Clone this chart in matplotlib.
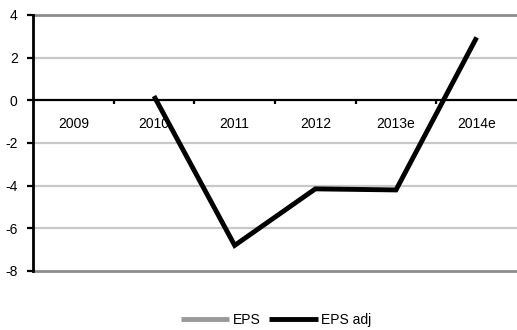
import matplotlib
matplotlib.use("Agg")
import matplotlib.pyplot as plt
import numpy as np

categories = ["2009", "2010", "2011", "2012", "2013e", "2014e"]
eps = [np.nan, np.nan, np.nan, np.nan, np.nan, np.nan]
eps_adj = [np.nan, 0.2, -6.8, -4.15, -4.2, 2.95]
y_ticks = [-8, -6, -4, -2, 0, 2, 4]

plt.rcParams['font.family'] = ['Liberation Sans', 'DejaVu Sans']

fig = plt.figure(figsize=(5.17, 3.30), dpi=100)
ax = fig.add_axes([33/517, 1 - 271/330, 1 - 33/517, (271 - 15)/330])

x = np.arange(len(categories))
ax.set_xlim(-0.5, len(categories) - 0.5)
ax.set_ylim(-8, 4)

# gridlines
for yv in y_ticks:
    if yv == 0:
        continue
    col = '#8c8c8c' if yv in (4, -8) else '#c8c8c8'
    ax.axhline(yv, color=col, lw=2.0 if yv in (4, -8) else 1.6, zorder=1, clip_on=False)

ax.plot(x, eps, color='#999999', lw=3.5, label='EPS', zorder=3)
ax.plot(x, eps_adj, color='black', lw=3.5, label='EPS adj', zorder=4,
        solid_joinstyle='miter', solid_capstyle='butt')

for s in ['top', 'right']:
    ax.spines[s].set_visible(False)
ax.spines['bottom'].set_position(('data', 0))
ax.spines['bottom'].set_color('black')
ax.spines['bottom'].set_linewidth(1.6)
ax.spines['bottom'].set_zorder(2)
ax.spines['left'].set_color('black')
ax.spines['left'].set_linewidth(2.0)

ax.set_xticks(np.arange(0.5, len(categories) - 1, 1.0))
ax.set_xticklabels([])
ax.tick_params(axis='x', which='major', direction='out', length=3, width=1.6, color='black')
ax.set_xticks(x, minor=True)
ax.set_xticklabels(categories, minor=True)
ax.tick_params(axis='x', which='minor', length=0, pad=12, labelsize=10)

ax.set_yticks(y_ticks)
ax.set_yticklabels([str(v) for v in y_ticks])
ax.tick_params(axis='y', direction='out', length=4, width=1.6, color='black', labelsize=10, pad=7)

leg = fig.legend(loc='center', bbox_to_anchor=(276/517, 1 - 320/330), ncol=2, frameon=False,
                 fontsize=10, handlelength=3.5, handletextpad=0.25, columnspacing=0.6)
for line in leg.get_lines():
    line.set_linewidth(3.5)
    line.set_solid_capstyle('butt')

fig.savefig('out.png', dpi=100)
